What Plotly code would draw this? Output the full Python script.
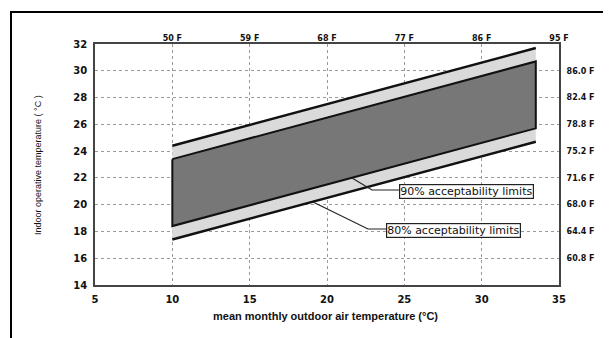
import plotly.graph_objects as go

# Data
outdoor_c = [10, 33.5]
upper80 = [24.4, 31.7]
upper90 = [23.4, 30.7]
lower90 = [18.4, 25.7]
lower80 = [17.4, 24.7]

x_ticks = [5, 10, 15, 20, 25, 30, 35]
top_ticks = [10, 15, 20, 25, 30, 35]
top_labels = ["50 F", "59 F", "68 F", "77 F", "86 F", "95 F"]
y_ticks = [14, 16, 18, 20, 22, 24, 26, 28, 30, 32]
right_ticks = [16, 18, 20, 22, 24, 26, 28, 30]
right_labels = ["60.8 F", "64.4 F", "68.0 F", "71.6 F", "75.2 F", "78.8 F", "82.4 F", "86.0 F"]

# page offset (body margin) compensation
OFF = 8
W, H = 611 - OFF, 338 - OFF
PX0, PX1, PY0, PY1 = 95, 559, 44, 285   # plot area in page pixels
L, R, T, B = PX0 - OFF, W - (PX1 - OFF), PY0 - OFF, H - (PY1 - OFF)
FONT = "Liberation Sans, Arial, sans-serif"
WIDE = "DejaVu Sans, sans-serif"


def px2x(p):
    return 5 + (p - PX0) / (PX1 - PX0) * 30


def py2y(p):
    return 32 - (p - PY0) / (PY1 - PY0) * 18


def px2paper(p):
    return (p - PX0) / (PX1 - PX0)


def py2paper(p):
    return (PY1 - p) / (PY1 - PY0)


fig = go.Figure()

# light 80% band
fig.add_trace(go.Scatter(
    x=outdoor_c + outdoor_c[::-1], y=upper80 + lower80[::-1],
    fill="toself", fillcolor="#dadada", line=dict(width=0), mode="lines",
    hoverinfo="skip", showlegend=False))
# dark 90% band with black border
fig.add_trace(go.Scatter(
    x=outdoor_c + outdoor_c[::-1] + outdoor_c[:1], y=upper90 + lower90[::-1] + upper90[:1],
    fill="toself", fillcolor="#777777", line=dict(color="#111", width=2), mode="lines",
    hoverinfo="skip", showlegend=False))
# 80% limit lines
for ys in (upper80, lower80):
    fig.add_trace(go.Scatter(x=outdoor_c, y=ys, mode="lines",
                             line=dict(color="#111", width=2.5),
                             hoverinfo="skip", showlegend=False))
# invisible trace so secondary axes are drawn
fig.add_trace(go.Scatter(x=[None], y=[None], xaxis="x2", yaxis="y2", mode="lines",
                         showlegend=False, hoverinfo="skip"))

grid = dict(showgrid=True, gridcolor="#9a9a9a", griddash="dot", gridwidth=1)
tickfont = dict(size=10, family=WIDE, weight="bold", color="#111")
tickfont_s = dict(size=8, family=WIDE, weight="bold", color="#111")

fig.update_layout(
    width=W, height=H,
    margin=dict(l=L, r=R, t=T, b=B, autoexpand=False),
    paper_bgcolor="white", plot_bgcolor="white",
    font=dict(family=FONT, color="#111"),
    xaxis=dict(range=[5, 35], tickvals=x_ticks, ticks="outside", ticklen=4,
               tickcolor="rgba(0,0,0,0)", tickfont=tickfont,
               showline=True, linecolor="#444", linewidth=1.5, mirror=True,
               zeroline=False, fixedrange=True, **grid),
    yaxis=dict(range=[14, 32], tickvals=y_ticks, ticks="outside", ticklen=4,
               tickcolor="rgba(0,0,0,0)", tickfont=tickfont,
               showline=True, linecolor="#444", linewidth=1.5, mirror=True,
               zeroline=False, fixedrange=True, **grid),
    xaxis2=dict(range=[5, 35], overlaying="x", side="top", anchor="y", tickvals=top_ticks,
                ticktext=top_labels, ticks="", showgrid=False, zeroline=False,
                showline=False, tickfont=tickfont_s, fixedrange=True),
    yaxis2=dict(range=[14, 32], overlaying="y", side="right", anchor="x", tickvals=right_ticks,
                ticktext=right_labels, ticks="outside", ticklen=5,
                tickcolor="rgba(0,0,0,0)", showgrid=False, zeroline=False,
                showline=False, tickfont=tickfont_s, fixedrange=True),
)

# leader lines
lead90 = [(352, 178), (372, 190), (399, 190)]
lead80 = [(313, 202), (368, 229), (386, 229)]
for pts in (lead90, lead80):
    path = "M " + " L ".join(f"{px2x(a)},{py2y(b)}" for a, b in pts)
    fig.add_shape(type="path", path=path, xref="x", yref="y",
                  line=dict(color="#222", width=1.2))

fig.add_annotation(x=px2x(399), y=py2y(191), xref="x", yref="y", xanchor="left",
                   yanchor="middle", text="90% acceptability limits", showarrow=False,
                   font=dict(size=11, family=WIDE, color="#111"),
                   bgcolor="white", bordercolor="#222", borderwidth=1.2, borderpad=0)
fig.add_annotation(x=px2x(386), y=py2y(230), xref="x", yref="y", xanchor="left",
                   yanchor="middle", text="80% acceptability limits", showarrow=False,
                   font=dict(size=11, family=WIDE, color="#111"),
                   bgcolor="white", bordercolor="#222", borderwidth=1.2, borderpad=0)

# axis titles
fig.add_annotation(x=px2paper(325), y=py2paper(316), xref="paper", yref="paper",
                   xanchor="center", yanchor="middle",
                   text="mean monthly outdoor air temperature (°C)",
                   showarrow=False, font=dict(size=11, family=FONT, weight="bold"))
fig.add_annotation(x=px2paper(38), y=py2paper(165), xref="paper", yref="paper",
                   xanchor="center", yanchor="middle",
                   text="Indoor operative temperature ( °C )", textangle=-90,
                   showarrow=False, font=dict(size=9, family=FONT))

# outer frame
fig.add_shape(type="rect", xref="paper", yref="paper",
              x0=px2paper(11), x1=px2paper(620),
              y0=py2paper(345), y1=py2paper(12),
              line=dict(color="black", width=2), layer="below")

fig.write_html("out.html")
